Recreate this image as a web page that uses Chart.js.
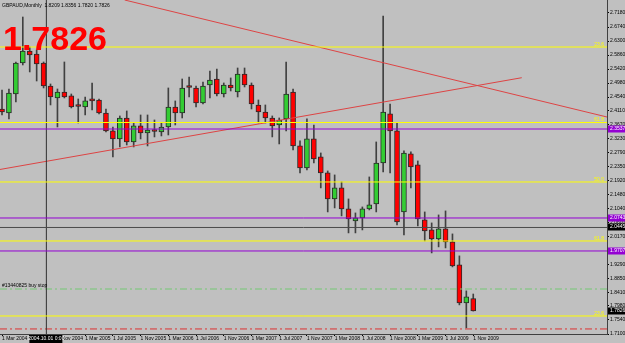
<!DOCTYPE html>
<html>
<head>
<meta charset="utf-8">
<script src="https://cdn.jsdelivr.net/npm/chart.js@4.4.1/dist/chart.umd.min.js"></script>
<style>
  html, body { margin: 0; padding: 0; background: #c0c0c0; }
  #wrap { width: 625px; height: 343px; position: relative; }
</style>
</head>
<body>
<div id="wrap"><canvas id="myChart"></canvas></div>
<script>
// GBPAUD monthly, Mar 2004 .. Nov 2009 (one candle per month)
var symbol = 'GBPAUD,Monthly';

var opens = [2.4166, 2.4041, 2.4637, 2.5610, 2.5987, 2.5893, 2.5610, 2.4888, 2.4512, 2.4700,
  2.4575, 2.4261, 2.4229, 2.4449, 2.4449, 2.4041, 2.3476, 2.3225, 2.3884, 2.3131,
  2.3633, 2.3413, 2.3476, 2.3445, 2.3601, 2.4229, 2.4041, 2.4857, 2.4826, 2.4355,
  2.4920, 2.5108, 2.4637, 2.4920, 2.4700, 2.5265, 2.4920, 2.4292, 2.4072, 2.3884,
  2.3664, 2.3853, 2.4700, 2.3005, 2.2314, 2.3225, 2.2660, 2.2158, 2.1341, 2.1687,
  2.1027, 2.0651, 2.0745, 2.1027, 2.1184, 2.2471, 2.4010, 2.3476, 2.0933, 2.2754,
  2.2409, 2.0682, 2.0368, 2.0086, 2.0400, 1.9992, 1.9270, 1.8077, 1.8209];

var highs = [2.4763, 2.4794, 2.5642, 2.7054, 2.6113, 2.6018, 2.5642, 2.4951, 2.4794, 2.5642,
  2.4637, 2.4480, 2.4543, 2.4983, 2.4480, 2.4166, 2.3601, 2.3947, 2.4104, 2.3727,
  2.3978, 2.3978, 2.3821, 2.3727, 2.4826, 2.4418, 2.5108, 2.5171, 2.4888, 2.5014,
  2.5359, 2.5422, 2.4983, 2.5140, 2.5453, 2.5453, 2.4983, 2.4449, 2.4292, 2.3947,
  2.3884, 2.5642, 2.4794, 2.3162, 2.3853, 2.3664, 2.2785, 2.2220, 2.2095, 2.1875,
  2.1341, 2.0902, 2.1090, 2.2032, 2.3131, 2.7086, 2.4323, 2.3727, 2.2848, 2.2817,
  2.2534, 2.0933, 2.0588, 2.0839, 2.0965, 2.0243, 1.9552, 1.8454, 1.8356];

var lows = [2.3978, 2.3853, 2.4386, 2.5548, 2.5328, 2.5045, 2.4826, 2.4292, 2.3601, 2.4512,
  2.4198, 2.3727, 2.3978, 2.4135, 2.4010, 2.3445, 2.2660, 2.2974, 2.3036, 2.2974,
  2.3225, 2.3005, 2.3288, 2.3319, 2.3350, 2.3664, 2.3884, 2.4543, 2.4229, 2.4323,
  2.4512, 2.4575, 2.4543, 2.4732, 2.4543, 2.4857, 2.4166, 2.3727, 2.3727, 2.3288,
  2.3068, 2.3476, 2.2879, 2.2158, 2.2252, 2.2471, 2.1687, 2.0933, 2.1059, 2.0808,
  2.0274, 2.0274, 2.0368, 2.0996, 2.0933, 2.2189, 2.2158, 2.0525, 2.0211, 2.1687,
  2.0494, 2.0023, 1.9646, 1.9835, 1.9803, 1.9207, 1.8014, 1.7292, 1.7820];

var closes = [2.4072, 2.4669, 2.5610, 2.5987, 2.5862, 2.5579, 2.4888, 2.4543, 2.4700, 2.4543,
  2.4229, 2.4245, 2.4418, 2.4418, 2.4041, 2.3476, 2.3225, 2.3884, 2.3131, 2.3633,
  2.3413, 2.3507, 2.3460, 2.3601, 2.4229, 2.4041, 2.4826, 2.4841, 2.4355, 2.4888,
  2.5077, 2.4637, 2.4920, 2.4826, 2.5265, 2.4920, 2.4323, 2.4072, 2.3884, 2.3633,
  2.3821, 2.4637, 2.3005, 2.2314, 2.3225, 2.2597, 2.2158, 2.1341, 2.1687, 2.1027,
  2.0714, 2.0745, 2.1027, 2.1153, 2.2471, 2.4072, 2.3476, 2.0619, 2.2785, 2.2346,
  2.0714, 2.0337, 2.0086, 2.0400, 1.9992, 1.9238, 1.8077, 1.8265, 1.7826];

// time axis labels (candle index of each label)
var xTickIdx = [0, 4, 8, 12, 16, 20, 24, 28, 32, 36, 40, 44, 48, 52, 56, 60, 64, 68];
var xTickLabels = ['1 Mar 2004', '1 Jul 2004', '1 Nov 2004', '1 Mar 2005', '1 Jul 2005', '1 Nov 2005',
  '1 Mar 2006', '1 Jul 2006', '1 Nov 2006', '1 Mar 2007', '1 Jul 2007', '1 Nov 2007',
  '1 Mar 2008', '1 Jul 2008', '1 Nov 2008', '1 Mar 2009', '1 Jul 2009', '1 Nov 2009'];

// price axis labels
var yTicks = [2.7180, 2.6740, 2.6300, 2.5860, 2.5420, 2.4980, 2.4540, 2.4110, 2.3670, 2.3230,
  2.2790, 2.2350, 2.1920, 2.1480, 2.1040, 2.0600, 2.0170, 1.9730, 1.9290, 1.8850,
  1.8410, 1.7980, 1.7540, 1.7100];

// objects on the chart
var fibLevels = [2.6112, 2.3742, 2.1873, 2.0021, 1.7666];
var fibLabels = ['23.6', '61.8', '50.0', '61.8', '23.6'];
var purpleLevels = [2.3537, 2.0743, 1.9707];
var buyStopLevel = 1.8513;
var buyStopText = '#13440825 buy stop';
var stopLevel = 1.7258;
var crossIndex = 6.4;
var crossPrice = 2.0445;
var crossDate = '2004.10.01 0:00';
var trendDownX = [17.7, 87.3];
var trendDownY = [2.7588, 2.3914];
var trendUpX = [-0.3, 75.0];
var trendUpY = [2.2266, 2.5148];

// ---------------------------------------------------------------
var xMin = -0.29, xMax = 87.3, yMin = 1.7100, yMax = 2.7588;
var tiny = '5px "Liberation Sans", Arial, sans-serif';

var idx = closes.map(function (c, i) { return i; });
var last = closes.length - 1;

var wickData = idx.map(i => ({ x: i, y: [lows[i], highs[i]] }));
var bodyData = idx.map(i => ({ x: i, y: [opens[i], closes[i]] }));
var bodyColors = idx.map(i => closes[i] > opens[i] ? '#33cc33' : '#ff0000');

function hline(p) {
  return [{ x: xMin, y: p }, { x: xMax, y: p }];
}
function lineSet(data, color, dash) {
  return {
    type: 'line', data: data, borderColor: color, borderWidth: 1,
    borderDash: dash || [], pointRadius: 0, fill: false, tension: 0, order: 0
  };
}
// no extra room for half tick labels at the ends of the axes
function noPad(scale) {
  scale.paddingTop = 0;
  scale.paddingBottom = 0;
  scale.paddingLeft = 0;
  scale.paddingRight = 0;
}

var datasets = [
  { data: wickData, backgroundColor: '#404040', barThickness: 1, grouped: false, order: 3 },
  {
    data: bodyData, backgroundColor: bodyColors, borderColor: '#2a2a2a', borderWidth: 1,
    borderSkipped: false, barThickness: 5, minBarLength: 2, grouped: false, order: 2
  }
];
fibLevels.forEach(p => datasets.push(lineSet(hline(p), '#ffff00')));
purpleLevels.forEach(p => datasets.push(lineSet(hline(p), '#9400d3')));
datasets.push(lineSet(hline(crossPrice), '#4a4a4a'));
datasets.push(lineSet([{ x: crossIndex, y: yMin }, { x: crossIndex, y: yMax }], '#303030'));
datasets.push(lineSet(hline(buyStopLevel), '#74c874', [7, 3, 2, 3]));
datasets.push(lineSet(hline(stopLevel), '#dd3333', [7, 3, 2, 3]));
datasets.push(lineSet(trendDownX.map((x, k) => ({ x: x, y: trendDownY[k] })), '#dd4444'));
datasets.push(lineSet(trendUpX.map((x, k) => ({ x: x, y: trendUpY[k] })), '#dd4444'));

const overlay = {
  id: 'overlay',
  beforeDraw(chart) {
    const c = chart.ctx;
    c.save();
    c.fillStyle = '#c0c0c0';
    c.fillRect(0, 0, chart.width, chart.height);
    c.restore();
  },
  afterDatasetsDraw(chart) {
    const c = chart.ctx, y = chart.scales.y, a = chart.chartArea;
    c.save();
    // fibo level texts
    c.font = tiny;
    c.fillStyle = '#ffff00';
    c.textAlign = 'right';
    c.textBaseline = 'alphabetic';
    fibLevels.forEach((p, k) => c.fillText(fibLabels[k], a.right - 3, y.getPixelForValue(p) - 1));
    // pending order text
    c.fillStyle = '#000';
    c.textAlign = 'left';
    c.fillText(buyStopText, 2, y.getPixelForValue(buyStopLevel) - 2);
    // big price
    c.font = 'bold 34px "Liberation Sans", Arial, sans-serif';
    c.fillStyle = '#ff0000';
    c.fillText(closes[last].toFixed(4), 3, 50);
    // title
    c.font = tiny;
    c.fillStyle = '#000';
    c.fillText(symbol + '  ' + opens[last].toFixed(4) + ' ' + highs[last].toFixed(4) + ' ' +
      lows[last].toFixed(4) + ' ' + closes[last].toFixed(4), 2, 7);
    c.restore();
  },
  afterDraw(chart) {
    const c = chart.ctx, y = chart.scales.y, x = chart.scales.x, a = chart.chartArea;
    c.save();
    c.font = tiny;
    c.textBaseline = 'middle';
    function box(p, bg) {
      const py = Math.round(y.getPixelForValue(p));
      c.fillStyle = bg;
      c.fillRect(a.right + 1, py - 3.5, 17, 7);
      c.fillStyle = '#fff';
      c.textAlign = 'left';
      c.fillText(p.toFixed(4), a.right + 3, py);
    }
    purpleLevels.forEach(p => box(p, '#9400d3'));
    box(crossPrice, '#000');
    box(closes[last], '#000');
    // crosshair date
    const px = x.getPixelForValue(crossIndex);
    c.fillStyle = '#000';
    c.fillRect(px - 17, a.bottom + 1, 33, 8);
    c.fillStyle = '#fff';
    c.textAlign = 'center';
    c.fillText(crossDate, px, a.bottom + 5);
    c.restore();
  }
};

const ctx = document.getElementById('myChart');

const chart = new Chart(ctx, {
  type: 'bar',
  data: { datasets: datasets },
  plugins: [overlay],
  options: {
    responsive: true,
    maintainAspectRatio: false,
    animation: false,
    layout: { padding: 0 },
    plugins: {
      legend: { display: false },
      tooltip: { enabled: false }
    },
    scales: {
      x: {
        type: 'linear',
        min: xMin,
        max: xMax,
        offset: false,
        afterBuildTicks: function (scale) {
          scale.ticks = xTickIdx.map(v => ({ value: v }));
        },
        afterFit: function (scale) { scale.height = 9; noPad(scale); },
        grid: { drawOnChartArea: false, tickLength: 2, color: '#000', offset: false },
        border: { display: true, color: '#404040' },
        ticks: {
          autoSkip: false, maxRotation: 0, minRotation: 0, align: 'start', padding: 0,
          color: '#000', font: { size: 5, family: 'Liberation Sans' },
          callback: function (v, i) { return xTickLabels[i]; }
        }
      },
      y: {
        position: 'right',
        min: yMin,
        max: yMax,
        afterBuildTicks: function (scale) {
          scale.ticks = yTicks.map(v => ({ value: v }));
        },
        afterFit: function (scale) { scale.width = 18; noPad(scale); },
        grid: { drawOnChartArea: false, tickLength: 2, color: '#000' },
        border: { display: true, color: '#404040' },
        ticks: {
          padding: 1, color: '#000', font: { size: 5, family: 'Liberation Sans' },
          callback: function (v) { return Number(v).toFixed(4); }
        }
      }
    }
  }
});
</script>
</body>
</html>
